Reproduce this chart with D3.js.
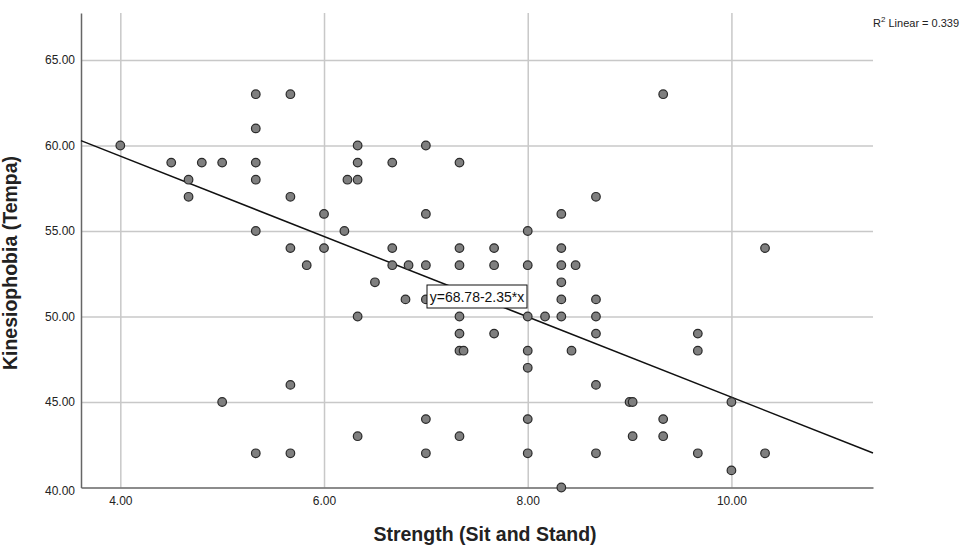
<!DOCTYPE html>
<html>
<head>
<meta charset="utf-8">
<script src="https://cdn.jsdelivr.net/npm/d3@7"></script>
<style>
  body { margin: 0; background: #fff; }
  svg { font-family: "Liberation Sans", Arial, sans-serif; }
</style>
</head>
<body>
<div id="chart"></div>
<script>
// strength (sit and stand) values, paired with kinesiophobia below
var strength = [
  4.00, 4.50, 4.67, 4.67, 4.80, 5.00, 5.00,
  5.33, 5.33, 5.33, 5.33, 5.33, 5.33,
  5.67, 5.67, 5.67, 5.67, 5.67, 5.83, 6.00, 6.00, 6.20, 6.23,
  6.33, 6.33, 6.33, 6.33, 6.33, 6.50, 6.67, 6.67, 6.67, 6.80, 6.83,
  7.00, 7.00, 7.00, 7.00, 7.00, 7.00,
  7.33, 7.33, 7.33, 7.33, 7.33, 7.33, 7.37, 7.33,
  7.67, 7.67, 7.67,
  8.00, 8.00, 8.00, 8.00, 8.00, 8.00, 8.00, 8.17,
  8.33, 8.33, 8.33, 8.33, 8.33, 8.33, 8.33, 8.43, 8.47,
  8.67, 8.67, 8.67, 8.67, 8.67, 8.67,
  9.00, 9.03, 9.03, 9.33, 9.33, 9.33, 9.67, 9.67, 9.67,
  10.00, 10.00, 10.33, 10.33
];
var kinesiophobia = [
  60, 59, 58, 57, 59, 59, 45,
  63, 61, 59, 58, 55, 42,
  63, 57, 54, 46, 42, 53, 56, 54, 55, 58,
  60, 59, 58, 50, 43, 52, 59, 54, 53, 51, 53,
  60, 56, 53, 51, 44, 42,
  59, 54, 53, 50, 49, 48, 48, 43,
  54, 53, 49,
  55, 53, 50, 48, 47, 44, 42, 50,
  56, 54, 53, 52, 51, 50, 40, 48, 53,
  57, 51, 50, 49, 46, 42,
  45, 45, 43, 63, 44, 43, 49, 48, 42,
  45, 41, 54, 42
];

var xTicks = [4, 6, 8, 10];
var yTicks = [40, 45, 50, 55, 60, 65];

// fit line y = 68.78 - 2.35*x, R2 = 0.339
var intercept = 68.78;
var slope = -2.35;
var r2 = 0.339;

var width = 972, height = 546;
var plotLeft = 81, plotRight = 873, plotTop = 13, plotBottom = 487.5;

var svg = d3.select("#chart").append("svg")
    .attr("width", width)
    .attr("height", height);

var x = d3.scaleLinear().domain([3.614, 11.39]).range([plotLeft, plotRight]);
var y = d3.scaleLinear().domain([40, 67.75]).range([plotBottom, plotTop]);

// grid
svg.append("g")
    .attr("transform", "translate(0," + plotBottom + ")")
    .call(d3.axisBottom(x).tickValues(xTicks).tickSize(-(plotBottom - plotTop)).tickFormat(""))
    .call(g => g.select(".domain").remove())
    .selectAll("line").attr("stroke", "#c8c8c8").attr("stroke-width", 1.5);

svg.append("g")
    .attr("transform", "translate(" + plotLeft + ",0)")
    .call(d3.axisLeft(y).tickValues(yTicks.filter(d => d > 40)).tickSize(-(plotRight - plotLeft)).tickFormat(""))
    .call(g => g.select(".domain").remove())
    .selectAll("line").attr("stroke", "#c8c8c8").attr("stroke-width", 1.5);

// axes (labels only, no tick marks)
var xAxis = svg.append("g")
    .attr("transform", "translate(0," + plotBottom + ")")
    .call(d3.axisBottom(x).tickValues(xTicks).tickSize(0).tickPadding(9).tickFormat(d3.format(".2f")));
xAxis.select(".domain").attr("stroke", "#666").attr("stroke-width", 1.5);
xAxis.selectAll("text").attr("font-size", 12).attr("fill", "#222")
    .attr("font-family", "Liberation Sans, Arial, sans-serif");

var yAxis = svg.append("g")
    .attr("transform", "translate(" + plotLeft + ",0)")
    .call(d3.axisLeft(y).tickValues(yTicks).tickSize(0).tickPadding(6).tickFormat(d3.format(".2f")));
yAxis.select(".domain").attr("stroke", "#666").attr("stroke-width", 1.5);
yAxis.selectAll("text").attr("font-size", 12).attr("fill", "#222")
    .attr("font-family", "Liberation Sans, Arial, sans-serif");
// the 40.00 label sits a little below the axis in the original
yAxis.selectAll(".tick").filter(d => d === 40).select("text").attr("dy", "0.55em");

// fit line
var x0 = x.domain()[0], x1 = x.domain()[1];
svg.append("line")
    .attr("x1", x(x0)).attr("y1", y(intercept + slope * x0))
    .attr("x2", x(x1)).attr("y2", y(intercept + slope * x1))
    .attr("stroke", "#111")
    .attr("stroke-width", 1.5);

// points
var data = strength.map((s, i) => ({ s: s, k: kinesiophobia[i] }));
svg.selectAll("circle").data(data).enter().append("circle")
    .attr("cx", d => x(d.s))
    .attr("cy", d => y(d.k))
    .attr("r", 4.3)
    .attr("fill", "#7f7f7f")
    .attr("stroke", "#2a2a2a")
    .attr("stroke-width", 1.2);

// equation box
var eq = svg.append("g").attr("transform", "translate(" + 427 + "," + 285 + ")");
eq.append("rect")
    .attr("width", 100).attr("height", 23)
    .attr("fill", "#fff").attr("stroke", "#111").attr("stroke-width", 1);
eq.append("text")
    .attr("x", 50).attr("y", 16.5)
    .attr("text-anchor", "middle")
    .attr("font-size", 14)
    .attr("fill", "#111")
    .text("y=" + intercept + "-" + Math.abs(slope) + "*x");

// R2 note
var rt = svg.append("text")
    .attr("x", 873).attr("y", 27)
    .attr("font-size", 11)
    .attr("fill", "#222");
rt.append("tspan").text("R");
rt.append("tspan").attr("dy", -5).attr("font-size", 8).text("2");
rt.append("tspan").attr("dy", 5).text(" Linear = " + r2);

// axis titles
svg.append("text")
    .attr("x", 485)
    .attr("y", 541)
    .attr("text-anchor", "middle")
    .attr("font-size", 19.5)
    .attr("font-weight", "bold")
    .attr("fill", "#222")
    .text("Strength (Sit and Stand)");

svg.append("text")
    .attr("transform", "translate(17,263) rotate(-90)")
    .attr("text-anchor", "middle")
    .attr("font-size", 19.5)
    .attr("font-weight", "bold")
    .attr("fill", "#222")
    .text("Kinesiophobia (Tempa)");
</script>
</body>
</html>
